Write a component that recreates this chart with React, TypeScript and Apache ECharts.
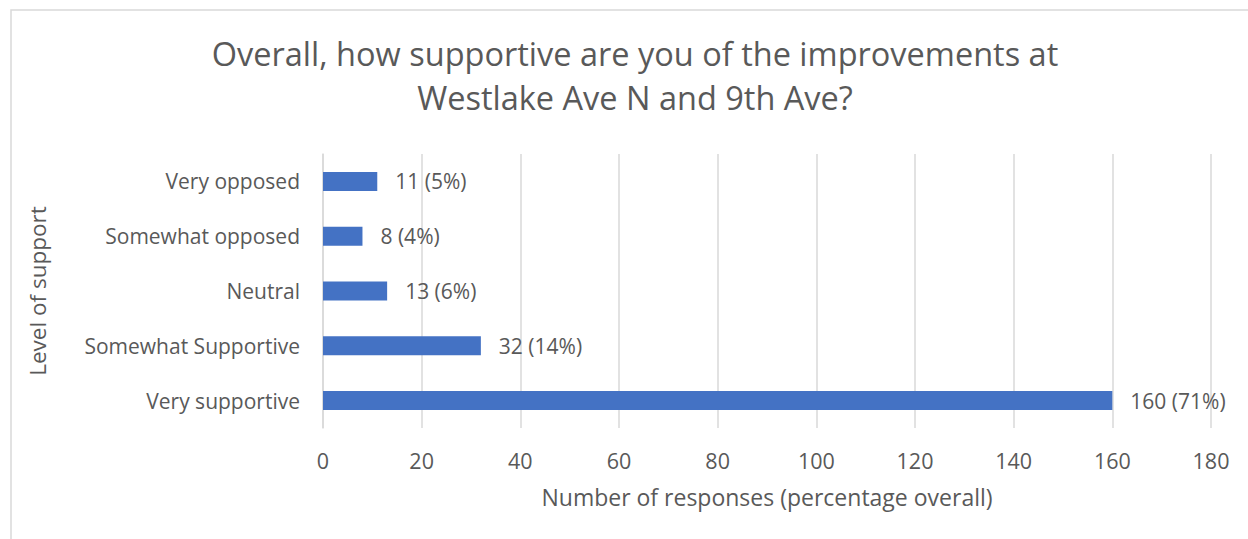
import React, { useEffect, useRef } from "react";
import * as echarts from "echarts";

const categories = ["Very supportive", "Somewhat Supportive", "Neutral", "Somewhat opposed", "Very opposed"];
const counts = [160, 32, 13, 8, 11];
const percents = [71, 14, 6, 4, 5];
const xTicks = { min: 0, max: 180, interval: 20 };
const titleLines = ["Overall, how supportive are you of the improvements at", "Westlake Ave N and 9th Ave?"];
const xAxisTitle = "Number of responses (percentage overall)";
const yAxisTitle = "Level of support";

const FONT = "'Open Sans', 'Noto Sans', sans-serif";
const TEXT = "#595959";

export default function App() {
  const ref = useRef<HTMLDivElement>(null);
  useEffect(() => {
    document.body.style.margin = "0";
    const chart = echarts.init(ref.current!, null, { renderer: "svg" });
    chart.setOption({
      animation: false,
      backgroundColor: "#ffffff",
      textStyle: { fontFamily: FONT, color: TEXT },
      graphic: [
        {
          type: "rect",
          shape: { x: 11, y: 10, width: 1260, height: 560 },
          style: { fill: "none", stroke: "#D9D9D9", lineWidth: 1.5 },
          silent: true,
        },
        {
          type: "text",
          x: 635,
          y: 31,
          silent: true,
          style: {
            text: titleLines.join("\n"),
            align: "center",
            verticalAlign: "top",
            fontFamily: FONT,
            fontSize: 32.5,
            lineHeight: 44,
            fill: TEXT,
          },
        },
      ],
      grid: { left: 323, right: 37, top: 154, bottom: 111 },
      xAxis: {
        type: "value",
        min: xTicks.min,
        max: xTicks.max,
        interval: xTicks.interval,
        axisLine: { show: false },
        axisTick: { show: false },
        splitLine: { show: true, lineStyle: { color: "#D9D9D9", width: 1.5 } },
        axisLabel: { fontFamily: FONT, fontSize: 21.5, color: TEXT, margin: 21 },
        name: xAxisTitle,
        nameLocation: "middle",
        nameGap: 57,
        nameTextStyle: { fontFamily: FONT, fontSize: 23, color: TEXT },
      },
      yAxis: {
        type: "category",
        data: categories,
        axisLine: { show: true, lineStyle: { color: "#D9D9D9", width: 1.5 } },
        axisTick: { show: false },
        axisLabel: { fontFamily: FONT, fontSize: 21, color: TEXT, margin: 23 },
        name: yAxisTitle,
        nameLocation: "middle",
        nameRotate: 90,
        nameGap: 286,
        nameTextStyle: { fontFamily: FONT, fontSize: 22.5, color: TEXT, verticalAlign: "middle" },
      },
      series: [
        {
          type: "bar",
          data: counts,
          barWidth: 19,
          itemStyle: { color: "#4472C4" },
          label: {
            show: true,
            position: "right",
            distance: 18,
            fontFamily: FONT,
            fontSize: 21,
            color: TEXT,
            formatter: (p: any) => `${counts[p.dataIndex]} (${percents[p.dataIndex]}%)`,
          },
        },
      ],
    });
    return () => chart.dispose();
  }, []);
  return <div ref={ref} style={{ width: 1248, height: 539 }} />;
}
